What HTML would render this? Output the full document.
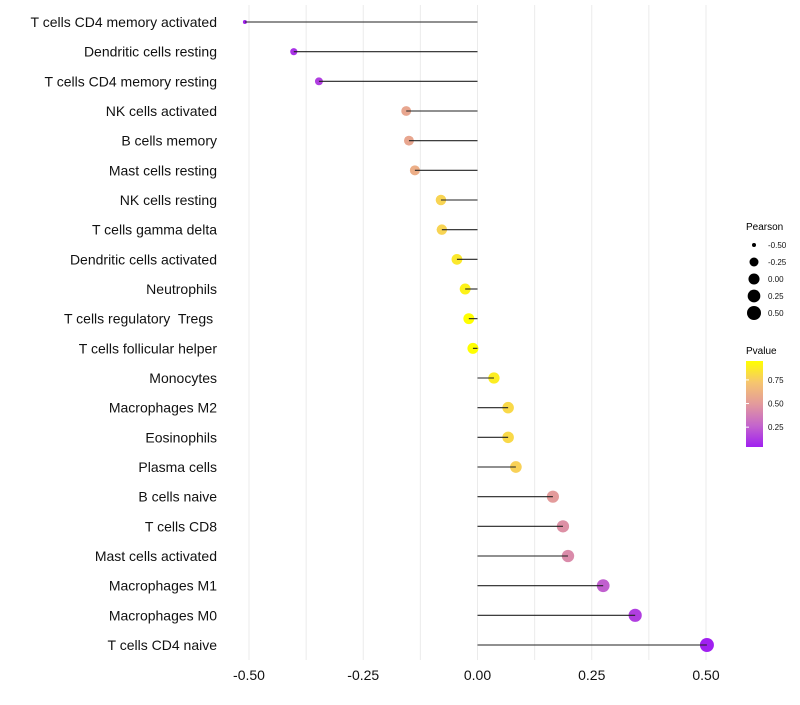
<!DOCTYPE html>
<html><head><meta charset="utf-8"><style>
body{margin:0;background:#fff;font-family:"Liberation Sans",sans-serif}
text{white-space:pre}
</style></head><body>
<svg id="chart" width="800" height="700" xmlns="http://www.w3.org/2000/svg">
<defs><linearGradient id="pg" x1="0" y1="1" x2="0" y2="0">
<stop offset="0" stop-color="#a020f0"/><stop offset="0.25" stop-color="#c465cc"/><stop offset="0.5" stop-color="#e39a9c"/><stop offset="0.75" stop-color="#f6c56f"/><stop offset="1" stop-color="#ffff00"/></linearGradient></defs>
<g id="grid"></g>
<g id="marks"></g>
<g id="legend">
<text x="746" y="230" font-size="10">Pearson</text>
<text x="746" y="354" font-size="10">Pvalue</text>
<rect x="746" y="361" width="17" height="86" fill="url(#pg)"/>
</g>
</svg>
<script>
const categories=["T cells CD4 memory activated","Dendritic cells resting","T cells CD4 memory resting","NK cells activated","B cells memory","Mast cells resting","NK cells resting","T cells gamma delta","Dendritic cells activated","Neutrophils","T cells regulatory  Tregs ","T cells follicular helper","Monocytes","Macrophages M2","Eosinophils","Plasma cells","B cells naive","T cells CD8","Mast cells activated","Macrophages M1","Macrophages M0","T cells CD4 naive"];
const pearson=[-0.509,-0.402,-0.347,-0.156,-0.150,-0.137,-0.080,-0.078,-0.045,-0.027,-0.019,-0.010,0.036,0.067,0.067,0.084,0.165,0.187,0.198,0.275,0.345,0.502];
const pvalue=[0.05,0.1,0.14,0.56,0.56,0.6,0.78,0.78,0.86,0.9,0.95,0.97,0.88,0.8,0.8,0.77,0.5,0.45,0.43,0.25,0.14,0.04];
const xTicks=[-0.5,-0.25,0,0.25,0.5];
const xTickLabels=["-0.50","-0.25","0.00","0.25","0.50"];
const sizeLegendVals=[-0.5,-0.25,0,0.25,0.5];
const colorLegendVals=[0.25,0.5,0.75];

const NS="http://www.w3.org/2000/svg";
const x=v=>477.5+v*457;
const y=i=>22+i*(623/21);
const r=v=>2+5*Math.sqrt(Math.max(0,v+0.5));
const stops=[[160,32,240],[196,101,204],[227,154,156],[246,197,111],[255,255,0]];
function col(p){const t=Math.min(1,Math.max(0,(p-0.04)/0.91))*4;const i=Math.min(3,Math.floor(t)),f=t-i;
 const c=stops[i].map((a,k)=>Math.round(a+(stops[i+1][k]-a)*f));return `rgb(${c})`;}
const ly=p=>447-(p-0.04)/0.91*86;
function mk(tag,attrs,parent){const e=document.createElementNS(NS,tag);for(const k in attrs)e.setAttribute(k,attrs[k]);parent.appendChild(e);return e;}
const grid=document.getElementById('grid'),marks=document.getElementById('marks'),leg=document.getElementById('legend');
for(let v=-0.5;v<=0.501;v+=0.125){const l=mk('line',{x1:x(v),x2:x(v),y1:5,y2:660,stroke:'#ebebeb','stroke-width':1},grid);
 
 }
xTicks.forEach((v,i)=>{const t=mk('text',{x:x(v),y:680,'font-size':14,'text-anchor':'middle',fill:'#111'},grid);t.textContent=xTickLabels[i];
 
 });
categories.forEach((c,i)=>{
 const t=mk('text',{x:217,y:y(i)+5,'font-size':14,'text-anchor':'end',fill:'#111'},marks);t.textContent=c;
 
 
 const d=mk('circle',{cx:x(pearson[i]),cy:y(i),r:r(pearson[i]),fill:col(pvalue[i])},marks);
 
 
 const l=mk('line',{x1:x(0),x2:x(pearson[i]),y1:y(i),y2:y(i),stroke:'#222','stroke-width':1.1},marks);
 
 
});
sizeLegendVals.forEach((v,i)=>{const cy=245+i*17;
 const d=mk('circle',{cx:754,cy:cy,r:r(v),fill:'#000'},leg);
 
 
 const t=mk('text',{x:768,y:cy+3,'font-size':8,fill:'#111'},leg);t.textContent=v.toFixed(2);
 
 });
colorLegendVals.forEach(v=>{const t=mk('text',{x:768,y:ly(v)+3,'font-size':8,fill:'#111'},leg);t.textContent=v.toFixed(2);
 
 
 const k=mk('line',{x1:746,x2:749,y1:ly(v),y2:ly(v),stroke:'#fff'},leg);
 
 });
</script>
</body></html>
